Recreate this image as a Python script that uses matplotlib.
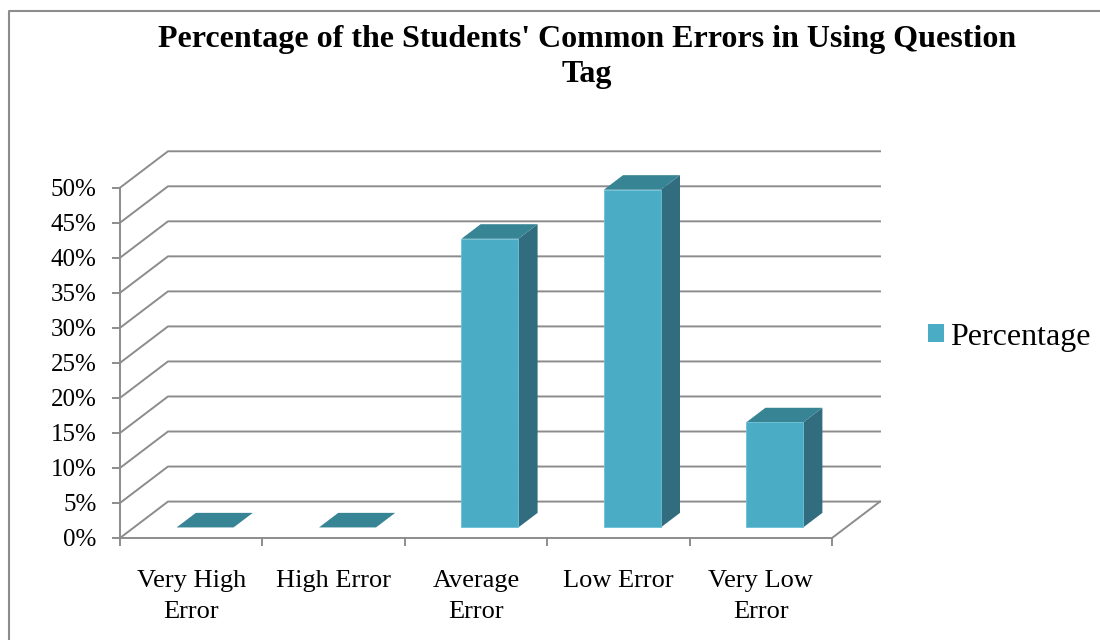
import matplotlib
matplotlib.use("Agg")
import matplotlib.pyplot as plt
from matplotlib.patches import Polygon, Patch
from matplotlib.lines import Line2D

categories = ["Very High\nError", "High Error", "Average\nError", "Low Error", "Very Low\nError"]
percentages = [0, 0, 41.2, 48.2, 15.0]
y_ticks = list(range(0, 51, 5))
y_tick_labels = [f"{v}%" for v in y_ticks]
series_name = "Percentage"
title = "Percentage of the Students' Common Errors in Using Question\nTag"

plt.rcParams["font.family"] = ["Liberation Serif", "DejaVu Serif"]

W, H = 1100, 640
fig = plt.figure(figsize=(W / 100, H / 100), dpi=100)

# oblique depth offset, in data units (categories, percent)
Dx, Dy = 0.337, 5.2
cat_px, pct_px = 142.4, 7.006
ax = fig.add_axes([120 / W, (H - 538) / H, (5 + Dx) * cat_px / W, (50 + Dy) * pct_px / H])
ax.set_xlim(0, 5 + Dx)
ax.set_ylim(0, 50 + Dy)
ax.patch.set_alpha(0)

grey = "#8c8c8c"
front_c, top_c, side_c = "#4bacc6", "#378494", "#316c7f"

for s in ["top", "right"]:
    ax.spines[s].set_visible(False)
for s in ["left", "bottom"]:
    ax.spines[s].set_color(grey)
    ax.spines[s].set_linewidth(1.4)
ax.spines["left"].set_bounds(0, 50)
ax.spines["bottom"].set_bounds(0, 5)

ax.set_yticks(y_ticks)
ax.set_yticklabels(y_tick_labels)
ax.set_xticks(range(6))
ax.set_xticklabels([])
ax.set_xticks([i + 0.5 for i in range(5)], minor=True)
ax.set_xticklabels(categories, minor=True)
ax.tick_params(axis="both", which="major", direction="out", length=6, width=1.4, color=grey)
ax.tick_params(axis="y", labelsize=18, pad=11)
ax.tick_params(axis="x", which="minor", length=0, labelsize=19, pad=23)

# walls and floor
for v in y_ticks:
    ax.plot([0, Dx, 5 + Dx], [v, v + Dy, v + Dy], color=grey, lw=1.4, zorder=1, clip_on=False)
ax.plot([5, 5 + Dx], [0, Dy], color=grey, lw=1.4, zorder=1, clip_on=False)

# 3D-looking bars
w, f0, f1 = 0.4, 0.29, 0.69
ddx, ddy = (f1 - f0) * Dx, (f1 - f0) * Dy
for i, v in enumerate(percentages):
    xl = i + 0.5 - w / 2 + f0 * Dx
    xr = xl + w
    yb = f0 * Dy
    yt = yb + v
    side = [(xr, yb), (xr + ddx, yb + ddy), (xr + ddx, yt + ddy), (xr, yt)]
    top = [(xl, yt), (xr, yt), (xr + ddx, yt + ddy), (xl + ddx, yt + ddy)]
    front = [(xl, yb), (xr, yb), (xr, yt), (xl, yt)]
    ax.add_patch(Polygon(side, closed=True, facecolor=side_c, edgecolor="none", zorder=3))
    ax.add_patch(Polygon(top, closed=True, facecolor=top_c, edgecolor="none", zorder=3))
    if v > 0:
        ax.add_patch(Polygon(front, closed=True, facecolor=front_c, edgecolor="#6cc0d6", lw=0.6, zorder=4))

for lbl in ax.get_xticklabels(minor=True):
    lbl.set_linespacing(1.55)

fig.text(587 / W, 1 - 57 / H, title, ha="center", va="center", fontsize=23,
         fontweight="bold", linespacing=1.25)

fig.legend(handles=[Patch(facecolor=front_c, label=series_name)], loc="center left",
           bbox_to_anchor=(915 / W, 1 - 337 / H), frameon=False, fontsize=23,
           handlelength=0.5, handleheight=0.5, handletextpad=0.2, borderaxespad=0)

# chart border (left and top edges visible)
fig.add_artist(Line2D([8.5 / W, 8.5 / W, 1], [0, 1 - 11 / H, 1 - 11 / H],
                      transform=fig.transFigure, color=grey, lw=1.5))

fig.savefig("out.png", dpi=100)
